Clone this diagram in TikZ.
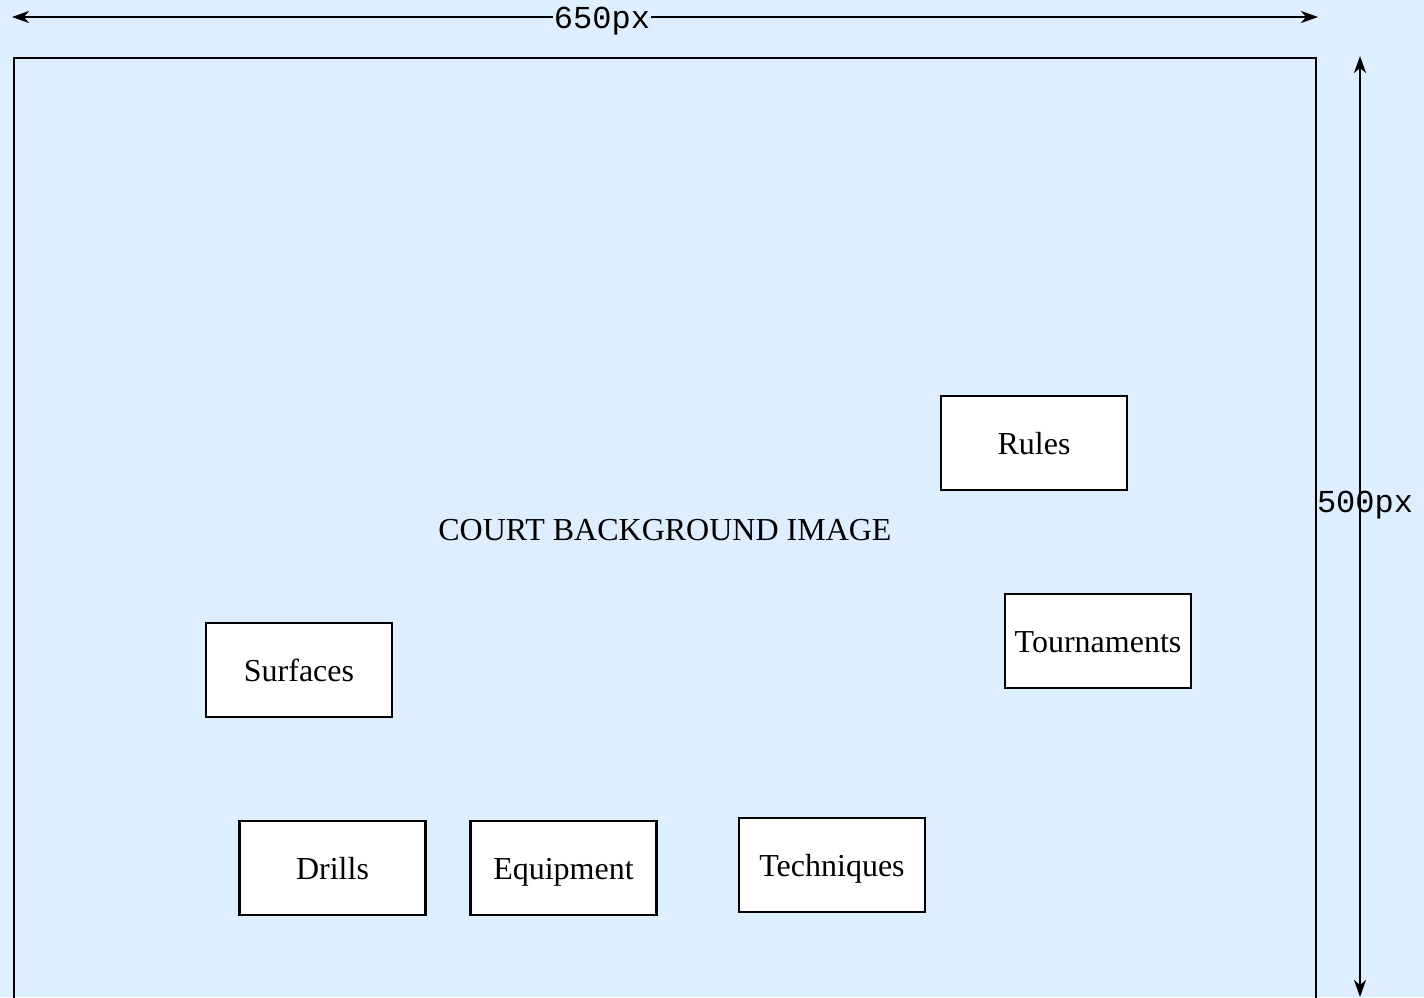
\documentclass[tikz,border=0pt]{standalone}
\usepackage{fontspec}
\setmainfont{Liberation Serif}
\newfontfamily\dimfont{Liberation Mono}
\usetikzlibrary{arrows.meta}
\definecolor{bgblue}{HTML}{DDEEFF}
\tikzset{
  topic/.style={draw=black, line width=2.5pt, fill=white, minimum width=186pt, minimum height=94pt, inner sep=0pt, text height=22pt, text depth=0pt, font=\fontsize{32}{36}\selectfont},
  dimline/.style={line width=2.3pt, {Stealth[length=17pt,width=12pt,inset=5pt]}-{Stealth[length=17pt,width=12pt,inset=5pt]}},
  dimlabel/.style={font=\dimfont\fontsize{32}{36}\selectfont, inner sep=0pt},
  frame/.style={draw=black, line width=2.5pt}
}
\begin{document}
\begin{tikzpicture}[x=1pt,y=-1pt]
\useasboundingbox (0,0) rectangle (1424,997);
\fill[bgblue] (0,0) rectangle (1424,997);
% court frame
\draw[frame] (14,1010) -- (14,58) -- (1316,58) -- (1316,1010);
% dimension lines
\coordinate (wl) at (12,17);
\coordinate (wr) at (1318,17);
\draw[dimline] (wl) -- (wr);
\node[dimlabel, fill=bgblue, inner xsep=1pt] (wlab) at (602,21) {650px};
\coordinate (ht) at (1360,56);
\coordinate (hb) at (1360,997);
\draw[dimline] (ht) -- (hb);
\node[dimlabel] (hlab) at (1365,505) {500px};
% title
\node[font=\fontsize{32}{36}\selectfont, inner sep=0pt, text height=22pt, text depth=0pt] (court) at (665,529) {COURT BACKGROUND IMAGE};
% topics
\node[topic] (rules) at (1034,443) {Rules};
\node[topic] (tourn) at (1098,641) {Tournaments};
\node[topic] (surf) at (299,670) {Surfaces};
\node[topic] (drills) at (332.5,868) {Drills};
\node[topic] (equip) at (563.5,868) {Equipment};
\node[topic] (tech) at (832,865) {Techniques};
\end{tikzpicture}
\end{document}
